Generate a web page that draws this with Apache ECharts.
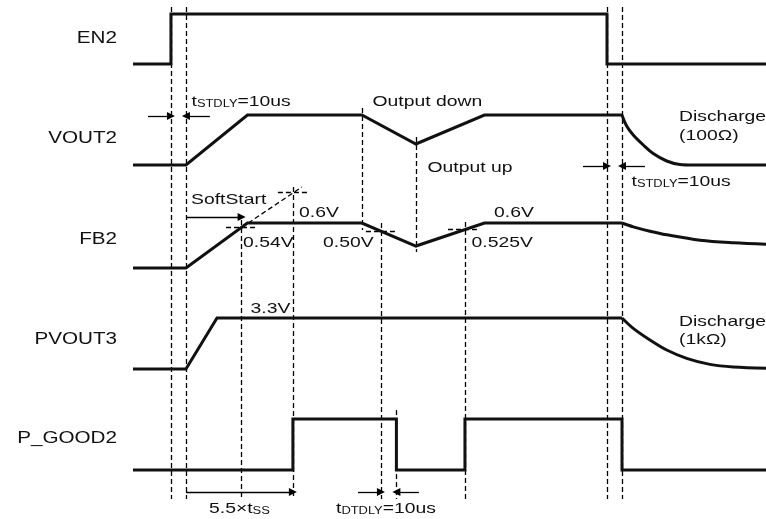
<!DOCTYPE html>
<html><head><meta charset="utf-8">
<script src="https://cdn.jsdelivr.net/npm/echarts@6/dist/echarts.min.js"></script>
<style>html,body{margin:0;padding:0;background:#fff}#c{width:766px;height:519px}</style>
</head><body><div id="c"></div>
<script>
// ---- time axis (us) ----
const T_MIN = -25.3, T_MAX = 396.7;

// ---- signal waveforms: time (us) and level ----
const en2T = [-25.3, 0, 0, 290.7, 290.7, 396.7];
const en2V = [0, 0, 1, 1, 0, 0];

const vout2T = [-25.3, 10, 51, 127.3, 163.3, 209, 300.7];
const vout2V = [0, 0, 1, 1, 0.42, 1, 1];
const vout2DisT = [300.7, 303.8, 308.2, 314.9, 321.5, 330.5, 339.3, 348, 396.7];
const vout2DisV = [1, 0.78, 0.6, 0.4, 0.23, 0.08, 0.01, 0, 0];

const fb2T = [-25.3, 10, 51, 127.3, 163.3, 209, 300.7];
const fb2V = [0, 0, 0.6, 0.6, 0.293, 0.6, 0.6];
const fb2DisT = [300.7, 308.2, 319.3, 330.5, 352.7, 374.9, 396.7];
const fb2DisV = [0.6, 0.549, 0.491, 0.443, 0.371, 0.336, 0.317];

const pvout3T = [-25.3, 10, 30.7, 300.7];
const pvout3V = [0, 0, 3.3, 3.3];
const pvout3DisT = [300.7, 308.2, 319.3, 330.5, 343.8, 359.3, 374.9, 396.7];
const pvout3DisV = [3.3, 2.63, 1.88, 1.23, 0.69, 0.30, 0.13, 0.05];

const pgoodT = [-25.3, 81.3, 81.3, 150.3, 150.3, 196, 196, 300.7, 300.7, 396.7];
const pgoodV = [0, 0, 1, 1, 0, 0, 1, 1, 0, 0];

// FB2 threshold marks (us, V)
const fbMarkT = [[36.7, 57.3], [71.3, 91.3], [130, 150.7], [184.7, 206]];
const fbMarkV = [0.54, 1.007, 0.493, 0.52];
const ssExtT = [47.1, 87.3];
const ssExtV = [0.54, 1.08];

// event times for vertical guides
const guideT = [0, 10, 290.7, 300.7, 127.3, 163.3, 47.1, 81.3, 140, 150.3, 196];

const signalNames = ['EN2', 'VOUT2', 'FB2', 'PVOUT3', 'P_GOOD2'];

// ---- layout (pixels) ----
const GUIDE_SPAN = [[7,499],[7,499],[7,499],[7,499],[108,230],[137,252],[220,499],[187,499],[223,499],[410,499],[222,499]];
const ARROWS = [[-15.3,0,116],[26,10,116],[274.7,290.7,166],[316,300.7,166],[10,47.1,217],[10,81.3,492],[124.7,140,492],[165.3,150.3,492]];
const grids = [
  {top:14, height:50, max:1},
  {top:115, height:50, max:1},
  {top:178, height:90, max:1.2},
  {top:318, height:51, max:3.3},
  {top:419, height:51, max:1},
  {top:0, height:519, max:519}
];
const FONT = '"Liberation Sans", Arial, Helvetica, sans-serif';
const INK = '#111';
const SX = 1.29;

const zip = (a, b) => a.map((v, i) => [v, b[i]]);
const W = {width:3, color:INK, join:'miter', cap:'butt'};

const option = {
  animation:false,
  backgroundColor:'#fff',
  grid: grids.map(g => ({left:133, width:633, top:g.top, height:g.height})),
  xAxis: grids.map((g,i) => ({type:'value', gridIndex:i, min:T_MIN, max:T_MAX, show:false})),
  yAxis: grids.map((g,i) => ({type:'value', gridIndex:i, min:0, max:g.max, show:false, inverse: i===5})),
  series: []
};
function sig(idx, t, v, smooth){
  option.series.push({type:'line', xAxisIndex:idx, yAxisIndex:idx, data:zip(t,v), symbol:'none',
    lineStyle:W, smooth: smooth ? 0.35 : false, clip:false, silent:true});
}
sig(0, en2T, en2V);
sig(1, vout2T, vout2V); sig(1, vout2DisT, vout2DisV, true);
sig(2, fb2T, fb2V); sig(2, fb2DisT, fb2DisV, true);
sig(3, pvout3T, pvout3V); sig(3, pvout3DisT, pvout3DisV, true);
sig(4, pgoodT, pgoodV);

const DASH = {width:1.3, color:'#000', type:[5,3], opacity:1};
// FB2 threshold dashes
option.series.push({type:'lines', coordinateSystem:'cartesian2d', xAxisIndex:2, yAxisIndex:2, silent:true, clip:false,
  lineStyle:DASH, symbol:'none',
  data: fbMarkT.map((tt,i)=>({coords:[[tt[0],fbMarkV[i]],[tt[1],fbMarkV[i]]]}))
    .concat([{coords: zip(ssExtT, ssExtV)}])
});
// vertical guides
option.series.push({type:'lines', coordinateSystem:'cartesian2d', xAxisIndex:5, yAxisIndex:5, silent:true, clip:false,
  lineStyle:DASH, symbol:'none',
  data: guideT.map((t,i)=>({coords:[[t,GUIDE_SPAN[i][0]],[t,GUIDE_SPAN[i][1]]]}))
});
// arrows
option.series.push({type:'lines', coordinateSystem:'cartesian2d', xAxisIndex:5, yAxisIndex:5, silent:true, clip:false,
  lineStyle:{width:1.3, color:'#000', opacity:1}, symbol:['none','triangle'], symbolSize:[7,8],
  data: ARROWS.map(a=>({coords:[[a[0],a[2]],[a[1],a[2]]]}))
});

// ---- text ----
function txt(x, y, text, size, align, rich){
  const st = {text, fontSize:size, fontFamily:FONT, fill:INK, align: align||'left', verticalAlign:'middle'};
  if (rich) st.rich = rich;
  return {type:'text', x, y, scaleX:SX, silent:true, style:st};
}
const subRich = {a:{fontSize:15, fontFamily:FONT, color:INK, verticalAlign:'bottom'}, b:{fontSize:10, fontFamily:FONT, color:INK, verticalAlign:'bottom'}};
const labelY = [39, 139, 240, 340, 439];
option.graphic = signalNames.map((n,i)=>txt(117, labelY[i], n, 16, 'right')).concat([
  txt(191.5, 102, '{a|t}{b|STDLY}{a|=10us}', 15, 'left', subRich),
  txt(372.5, 102, 'Output down', 15),
  txt(427.5, 168, 'Output up', 15),
  txt(679, 117, 'Discharge', 15),
  txt(679, 136, '(100Ω)', 15),
  txt(631.5, 182, '{a|t}{b|STDLY}{a|=10us}', 15, 'left', subRich),
  txt(191, 200, 'SoftStart', 15),
  txt(299, 213, '0.6V', 15),
  txt(243, 243, '0.54V', 15),
  txt(323, 243, '0.50V', 15),
  txt(494, 213, '0.6V', 15),
  txt(471.5, 243, '0.525V', 15),
  txt(250.5, 309, '3.3V', 15),
  txt(679, 321.5, 'Discharge', 15),
  txt(679, 340, '(1kΩ)', 15),
  txt(209, 509, '{a|5.5×t}{b|SS}', 15, 'left', subRich),
  txt(336, 509, '{a|t}{b|DTDLY}{a|=10us}', 15, 'left', subRich)
]);

const chart = echarts.init(document.getElementById('c'), null, {renderer:'canvas'});
chart.setOption(option);
</script></body></html>
